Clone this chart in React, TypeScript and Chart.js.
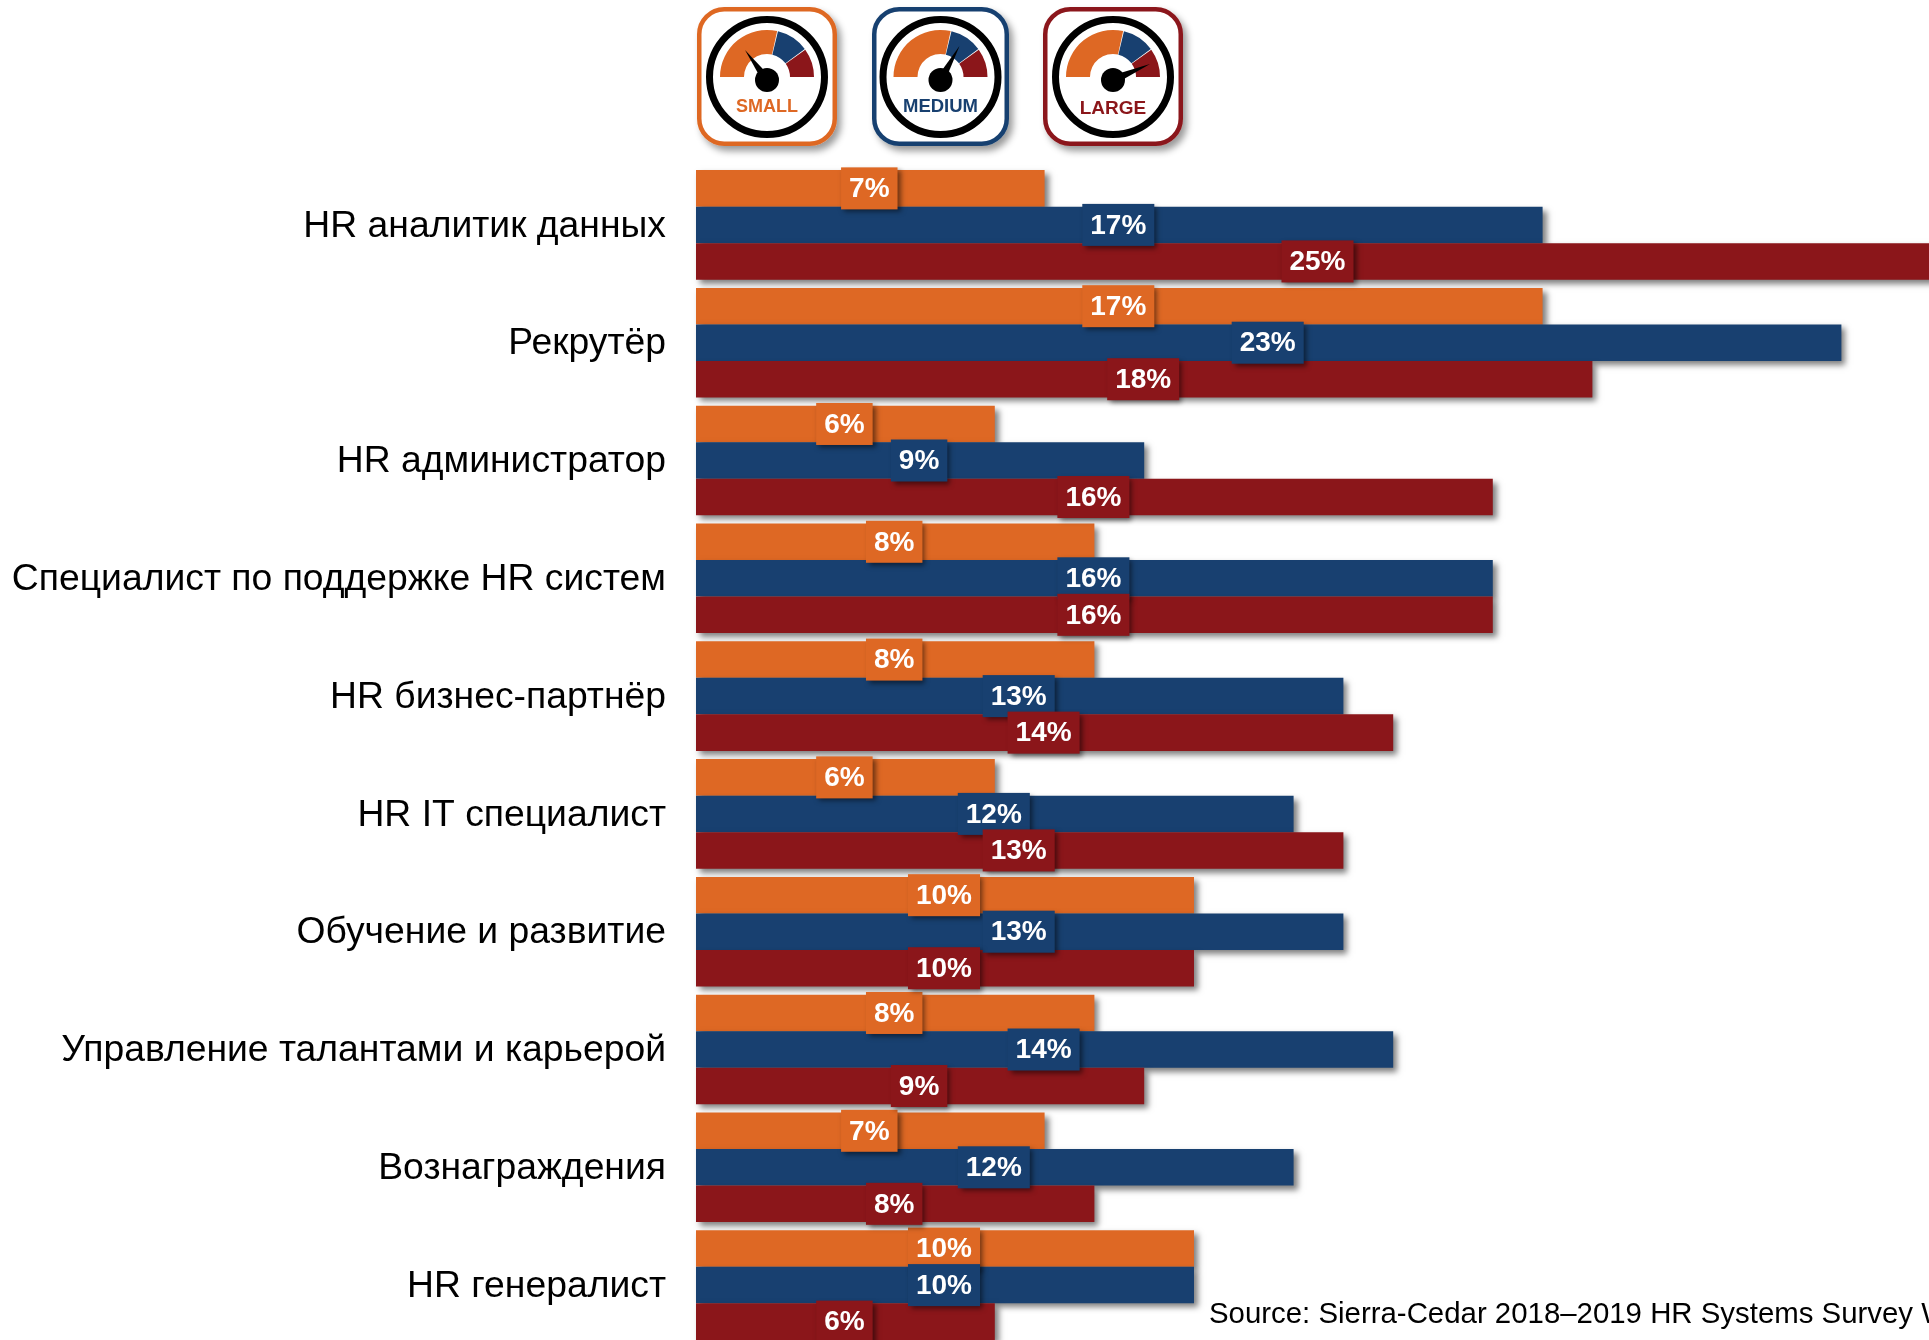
import React, { useEffect, useRef } from "react";
import { Chart, registerables } from "chart.js";

Chart.register(...registerables);

const categories = [
  "HR аналитик данных",
  "Рекрутёр",
  "HR администратор",
  "Специалист по поддержке HR систем",
  "HR бизнес-партнёр",
  "HR IT специалист",
  "Обучение и развитие",
  "Управление талантами и карьерой",
  "Вознаграждения",
  "HR генералист",
];
const small = [7, 17, 6, 8, 8, 6, 10, 8, 7, 10];
const medium = [17, 23, 9, 16, 13, 12, 13, 14, 12, 10];
const large = [25, 18, 16, 16, 14, 13, 10, 9, 8, 6];

const ORANGE = "#DE6824";
const BLUE = "#184070";
const RED = "#8B161A";
const SOURCE = "Source: Sierra-Cedar 2018–2019 HR Systems Survey White Paper";
const FONT = '"Liberation Sans", Arial, sans-serif';

const gauges = [
  { label: "SMALL", color: ORANGE, x: 697, width: 140, cx: 70, needle: [-22, -30], size: 18, base: 112 },
  { label: "MEDIUM", color: BLUE, x: 872, width: 137, cx: 68.5, needle: [19, -34], size: 18.5, base: 112 },
  { label: "LARGE", color: RED, x: 1043, width: 140, cx: 70, needle: [37, -16], size: 19, base: 114 },
];

function sector(cx: number, cy: number, r0: number, r1: number, a0: number, a1: number) {
  const p = (r: number, a: number) => {
    const t = (a * Math.PI) / 180;
    return `${(cx + r * Math.sin(t)).toFixed(2)} ${(cy - r * Math.cos(t)).toFixed(2)}`;
  };
  return `M${p(r1, a0)} A${r1} ${r1} 0 0 1 ${p(r1, a1)} L${p(r0, a1)} A${r0} ${r0} 0 0 0 ${p(r0, a0)} Z`;
}

function Gauge({ g }: { g: (typeof gauges)[number] }) {
  const cy = 70;
  const hubY = cy + 3;
  const [nx, ny] = g.needle;
  const len = Math.hypot(nx, ny);
  const px = (-ny / len) * 4.5;
  const py = (nx / len) * 4.5;
  return (
    <svg
      width={g.width + 20}
      height={160}
      style={{ position: "absolute", left: g.x, top: 7, overflow: "visible", filter: "blur(0.6px)" }}
    >
      <defs>
        <filter id={"sh" + g.label} x="-20%" y="-20%" width="150%" height="150%">
          <feDropShadow dx="4" dy="5" stdDeviation="3.5" floodColor="#000" floodOpacity="0.4" />
        </filter>
      </defs>
      <rect
        x={2.25}
        y={2.25}
        width={g.width - 4.5}
        height={134.5}
        rx={25}
        fill="#fff"
        stroke={g.color}
        strokeWidth={4.5}
        filter={`url(#sh${g.label})`}
      />
      <circle cx={g.cx} cy={cy} r={57.5} fill="#fff" stroke="#000" strokeWidth={7} />
      <path d={sector(g.cx, cy, 23, 47, -90, 12.5)} fill={ORANGE} />
      <path d={sector(g.cx, cy, 23, 47, 13.5, 53.5)} fill={BLUE} />
      <path d={sector(g.cx, cy, 23, 47, 54.5, 90)} fill={RED} />
      <polygon
        points={`${g.cx + nx},${hubY + ny} ${g.cx + px},${hubY + py} ${g.cx - px},${hubY - py}`}
        fill="#000"
      />
      <circle cx={g.cx} cy={hubY} r={12} fill="#000" />
      <text
        x={g.cx}
        y={g.base - 7}
        textAnchor="middle"
        fontFamily={FONT}
        fontWeight="bold"
        fontSize={g.size}
        fill={g.color}
      >
        {g.label}
      </text>
    </svg>
  );
}

const barsAndLabels = {
  id: "barsAndLabels",
  beforeDatasetDraw() {
    return false;
  },
  beforeDatasetsDraw(chart: any) {
    const ctx = chart.ctx;
    const metas = [0, 1, 2].map((i) => chart.getDatasetMeta(i));
    categories.forEach((_, c) => {
      metas.forEach((m) => {
        ctx.save();
        ctx.shadowColor = "rgba(0,0,0,0.5)";
        ctx.shadowBlur = 6;
        ctx.shadowOffsetX = 4;
        ctx.shadowOffsetY = 4;
        m.data[c].draw(ctx);
        ctx.restore();
      });
    });
  },
  afterDatasetsDraw(chart: any) {
    const ctx = chart.ctx;
    ctx.font = `bold 28px ${FONT}`;
    ctx.textAlign = "center";
    ctx.textBaseline = "middle";
    chart.data.datasets.forEach((ds: any, d: number) => {
      chart.getDatasetMeta(d).data.forEach((el: any, i: number) => {
        const text = `${ds.data[i]}%`;
        const p = el.getCenterPoint();
        const w = ctx.measureText(text).width + 16;
        const h = 42;
        ctx.save();
        ctx.shadowColor = "rgba(0,0,0,0.5)";
        ctx.shadowBlur = 5;
        ctx.shadowOffsetX = 3;
        ctx.shadowOffsetY = 3;
        ctx.fillStyle = ds.backgroundColor;
        ctx.fillRect(p.x - w / 2 - 1, p.y - h / 2, w, h);
        ctx.restore();
        ctx.fillStyle = "#fff";
        ctx.fillText(text, p.x - 1, p.y + 1);
      });
    });
  },
};

export default function App() {
  const ref = useRef<HTMLCanvasElement>(null);
  useEffect(() => {
    const chart = new Chart(ref.current as HTMLCanvasElement, {
      type: "bar",
      data: {
        labels: categories,
        datasets: [
          { label: "Small", data: small, backgroundColor: ORANGE },
          { label: "Medium", data: medium, backgroundColor: BLUE },
          { label: "Large", data: large, backgroundColor: RED },
        ],
      },
      options: {
        indexAxis: "y",
        animation: false,
        responsive: false,
        devicePixelRatio: 1,
        layout: { padding: { top: 166, left: 0, right: 0, bottom: 0 } },
        plugins: { legend: { display: false }, tooltip: { enabled: false } },
        datasets: { bar: { categoryPercentage: 0.93, barPercentage: 1 } },
        scales: {
          x: { display: false, min: 0, max: 25 },
          y: {
            afterFit: (s: any) => {
              s.width = 696;
              s.paddingTop = 0;
              s.paddingBottom = 0;
            },
            grid: { display: false, drawTicks: false },
            border: { display: false },
            ticks: {
              color: "#000",
              padding: 30,
              labelOffset: 1.5,
              font: { family: FONT, size: 37.3 },
              autoSkip: false,
            },
          },
        },
      },
      plugins: [barsAndLabels],
    } as any);
    return () => chart.destroy();
  }, []);
  return (
    <div
      style={{
        position: "fixed",
        left: 0,
        top: 0,
        width: 1929,
        height: 1340,
        overflow: "hidden",
        background: "#fff",
      }}
    >
      <canvas ref={ref} width={1941} height={1344} style={{ display: "block" }} />
      {gauges.map((g) => (
        <Gauge key={g.label} g={g} />
      ))}
      <div
        style={{
          position: "absolute",
          left: 1209,
          top: 1296,
          fontFamily: FONT,
          fontSize: 29.4,
          lineHeight: "34px",
          whiteSpace: "nowrap",
          color: "#000",
        }}
      >
        {SOURCE}
      </div>
    </div>
  );
}
